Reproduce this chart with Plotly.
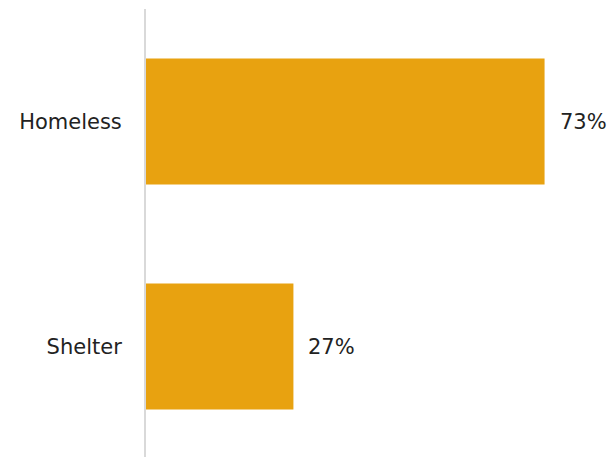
import plotly.graph_objects as go

categories = ["Homeless", "Shelter"]
values = [73, 27]
labels = ["73%", "27%"]

BAR = "#E8A210"
FONT = "DejaVu Sans"

fig = go.Figure()
fig.add_trace(go.Bar(
    y=categories, x=values, orientation="h",
    marker=dict(color=BAR, line=dict(width=0)),
    hoverinfo="skip",
))
for c, v, t in zip(categories, values, labels):
    fig.add_annotation(x=v, y=c, text=t, showarrow=False, xanchor="left",
                       xshift=13, font=dict(family=FONT, size=21, color="#222222"))

fig.update_layout(
    width=615, height=457,
    margin=dict(l=138, r=8, t=1, b=6),
    plot_bgcolor="white", paper_bgcolor="white",
    bargap=0.44, showlegend=False,
    xaxis=dict(range=[0, 85.9], visible=False, fixedrange=True),
    yaxis=dict(autorange="reversed", showline=True, linecolor="#d9d9d9", linewidth=2,
               showgrid=False, zeroline=False, ticks="", ticklabelstandoff=18,
               tickfont=dict(family=FONT, size=21, color="#222222"), fixedrange=True),
)
fig.write_html("out.html", config={"displayModeBar": False})
